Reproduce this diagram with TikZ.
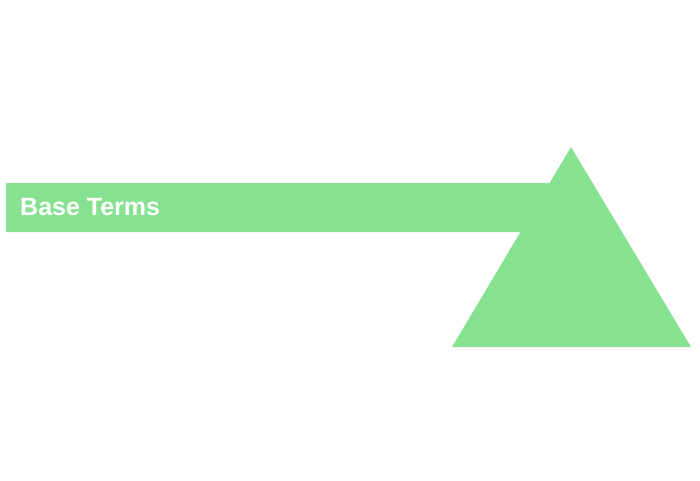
\documentclass[tikz,border=0pt]{standalone}
\usepackage{fontspec}
\setmainfont{Liberation Sans}
\definecolor{arrowgreen}{RGB}{134,226,144}
\begin{document}
\begin{tikzpicture}[x=1pt,y=-1pt,
  shapefill/.style={fill=arrowgreen,draw=none},
  labeltext/.style={text=white,font=\bfseries\fontsize{25}{30}\selectfont,inner sep=0pt,anchor=base west}]
\useasboundingbox (0,0) rectangle (700,480);
\path[shapefill] (6,183) -- (549.6,183) -- (571,147) -- (691,347) -- (452,347) -- (520.4,232) -- (6,232) -- cycle;
\node[labeltext] (label) at (20,215.5) {Base Terms};
\end{tikzpicture}
\end{document}
